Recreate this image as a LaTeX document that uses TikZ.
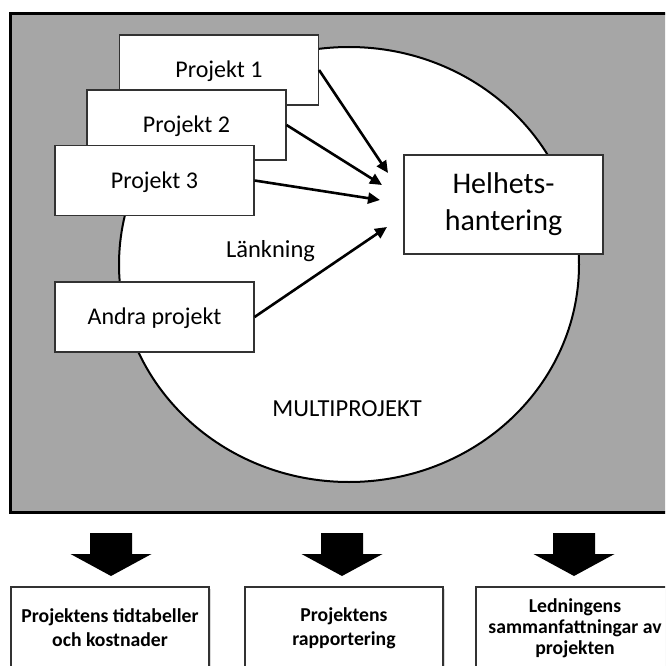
\documentclass[tikz,border=0pt]{standalone}
\usepackage{fontspec}
\setmainfont{Carlito}
\usetikzlibrary{arrows.meta,shadows,shapes.geometric}

\definecolor{panelgray}{RGB}{166,166,166}
\definecolor{edgegray}{RGB}{50,50,50}

\tikzset{
  projbox/.style={draw=edgegray, line width=1.1pt, fill=white,
    minimum width=199pt, minimum height=70pt, inner sep=0pt,
    font=\fontsize{24}{29}\selectfont, text height=15.5pt, text depth=0pt},
  label24/.style={font=\fontsize{24.5}{29}\selectfont, inner sep=0pt},
  link/.style={line width=2.6pt, -{Triangle[length=12pt,width=11pt]}},
  outbox/.style={draw=edgegray, line width=1.1pt, fill=white,
    minimum width=198pt, minimum height=82pt, inner sep=0pt, align=center,
    drop shadow={shadow xshift=1.5pt, shadow yshift=-1.5pt, opacity=0.3}},
  outfont/.style={font=\bfseries\fontsize{19.7}{24}\selectfont},
  downarrow/.pic={
    \fill[black] (-21,0) -- (21,0) -- (21,21) -- (40.5,21) -- (0,43)
      -- (-40.5,21) -- (-21,21) -- cycle;
  }
}

\begin{document}
\begin{tikzpicture}[x=1pt,y=-1pt]
\useasboundingbox (0,0) rectangle (665,666);
\clip (0,0) rectangle (665,666);

% grey panel with the multiproject circle
\draw[fill=panelgray, line width=3pt] (10,13.5) rectangle (690,512);
\node[ellipse, draw=black, line width=2pt, fill=white, inner sep=0pt,
  minimum width=460pt, minimum height=435pt] (multi) at (349,264.5) {};
\node[label24, anchor=base] (mtext) at (347,416) {MULTIPROJEKT};

% stacked project cards
\node[projbox] (p1) at (219,70) {Projekt 1};
\node[projbox] (p2) at (186.5,125) {Projekt 2};
\node[projbox] (p3) at (154.5,180.5) {Projekt 3};
\node[projbox] (pa) at (154.5,317) {Andra projekt};

% overall management box
\node[draw=edgegray, line width=1.1pt, fill=white, minimum width=199pt,
  minimum height=99pt, inner sep=0pt, align=center,
  font=\fontsize{30}{37}\selectfont] (hh) at (503.5,204.5) {Helhets-\\hantering};

\node[label24, anchor=base] (lnk) at (270.5,257) {Länkning};

% links into the overall management
\coordinate (t1) at (388,173);
\coordinate (t2) at (382,185);
\coordinate (t3) at (380,200);
\coordinate (t4) at (387,227);
\draw[link] (p1.east) -- (t1);
\draw[link] (p2.east) -- (t2);
\draw[link] (p3.east) -- (t3);
\draw[link] (pa.east) -- (t4);

% outputs
\pic at (111,533) {downarrow};
\pic at (342,533) {downarrow};
\pic at (574,533) {downarrow};

\node[outbox, outfont] (o1) at (110,628) {Projektens tidtabeller\\och kostnader};
\node[outbox, outfont] (o2) at (344,628) {Projektens\\rapportering};
\node[outbox, font=\bfseries\fontsize{19.7}{21}\selectfont] (o3) at (575,628)
  {Ledningens\\sammanfattningar av\\projekten};
\end{tikzpicture}
\end{document}
